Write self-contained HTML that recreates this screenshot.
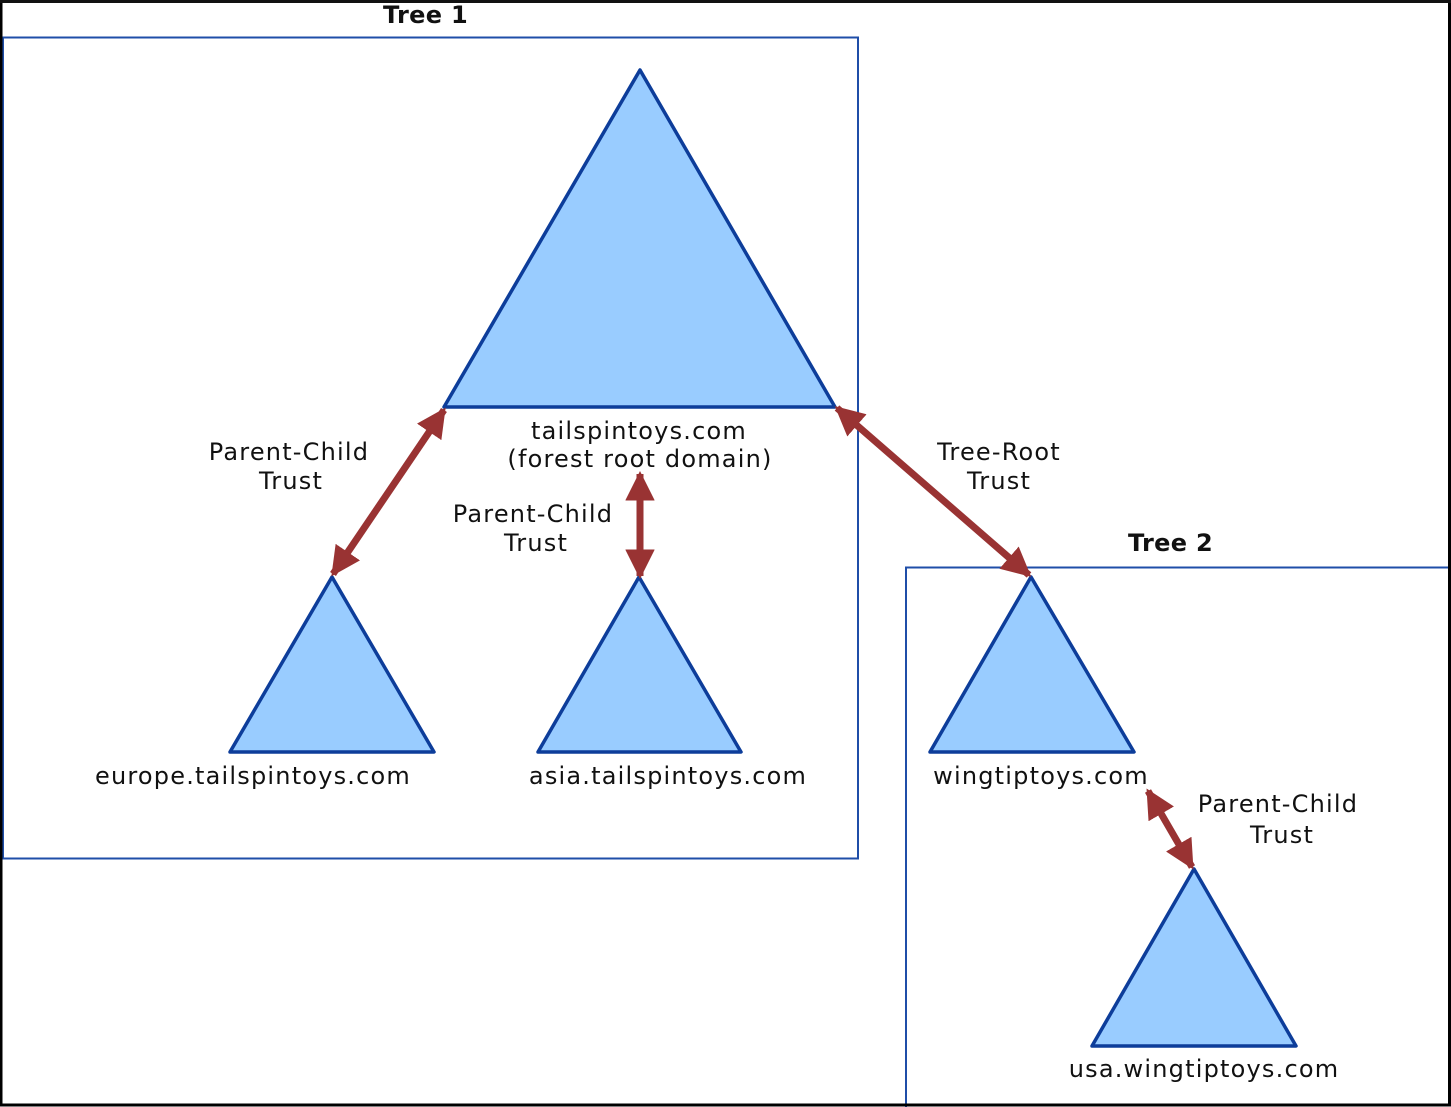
<!DOCTYPE html>
<html><head><meta charset="utf-8"><style>
html,body{margin:0;padding:0;background:#fff;}
svg{display:block;}
text{font-family:"DejaVu Sans","Liberation Sans",sans-serif;font-size:24px;fill:#111;letter-spacing:1.2px;}
.b{font-weight:bold;font-size:24px;letter-spacing:0.3px;}
</style></head><body>
<svg width="1451" height="1107" viewBox="0 0 1451 1107" xmlns="http://www.w3.org/2000/svg">
<defs>
<marker id="ah" viewBox="0 0 10 10" refX="9" refY="5" markerWidth="4.2" markerHeight="4.2" orient="auto-start-reverse" markerUnits="strokeWidth">
<path d="M0,0 L10,5 L0,10 z" fill="#993333"/>
</marker>
</defs>
<rect x="0" y="0" width="1451" height="1107" fill="#fff"/>
<rect x="3" y="37.5" width="855" height="821" fill="none" stroke="#1f4ea8" stroke-width="2"/>
<rect x="906" y="567.5" width="546" height="545" fill="none" stroke="#1f4ea8" stroke-width="2"/>
<text class="b" x="383" y="23">Tree 1</text>
<text class="b" x="1128" y="551">Tree 2</text>
<g fill="#99ccff" stroke="#0d3d9a" stroke-width="3.5" stroke-linejoin="round">
<polygon points="640,70 835,407 444,407"/>
<polygon points="332,577 434,752 230,752"/>
<polygon points="639,577 741,752 538,752"/>
<polygon points="1031,577 1134,752 930,752"/>
<polygon points="1194,869 1296,1046 1092,1046"/>
</g>
<g stroke="#993333" stroke-width="7" marker-start="url(#ah)" marker-end="url(#ah)">
<line x1="444" y1="410" x2="333" y2="574"/>
<line x1="640" y1="474" x2="640" y2="576"/>
<line x1="837" y1="408" x2="1029" y2="575"/>
<line x1="1148" y1="791" x2="1192" y2="867"/>
</g>
<g text-anchor="middle">
<text x="639" y="439">tailspintoys.com</text>
<text x="640" y="467">(forest root domain)</text>
<text x="289" y="460">Parent-Child</text>
<text x="291" y="489">Trust</text>
<text x="533" y="522">Parent-Child</text>
<text x="536" y="551">Trust</text>
<text x="999" y="460">Tree-Root</text>
<text x="999" y="489">Trust</text>
<text x="1278" y="812">Parent-Child</text>
<text x="1282" y="843">Trust</text>
<text x="253" y="784">europe.tailspintoys.com</text>
<text x="668" y="784">asia.tailspintoys.com</text>
<text x="1041" y="784">wingtiptoys.com</text>
<text x="1204" y="1077">usa.wingtiptoys.com</text>
</g>
<rect x="1" y="1.5" width="1448.5" height="1103.5" fill="none" stroke="#000" stroke-width="3"/>
<rect x="0" y="0" width="1451" height="3" fill="#111"/>
</svg>
</body></html>
